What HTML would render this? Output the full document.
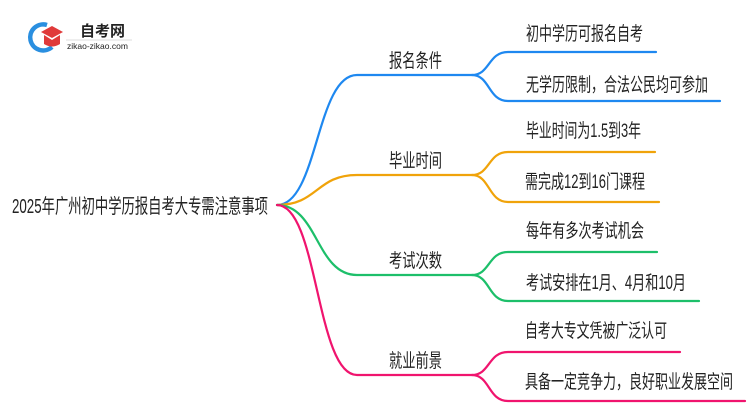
<!DOCTYPE html>
<html><head><meta charset="utf-8">
<style>
html,body{margin:0;padding:0;background:#fff;}
svg{display:block;}
text{font-family:"Liberation Sans","Noto Sans CJK SC",sans-serif;fill:#222;}
</style></head>
<body>
<svg width="750" height="410" viewBox="0 0 750 410" xmlns="http://www.w3.org/2000/svg">
<!-- logo -->
<path d="M47 25 A13 13 0 1 0 52 47" fill="none" stroke="#2a8fe0" stroke-width="4.5"/>
<polygon points="41,32 52,26 63,32 52,38" fill="#e03a3a"/>
<path d="M44 35 L44 44 Q52 49 60 44 L60 35 L52 40 Z" fill="#e03a3a"/>
<text x="80" y="36" font-size="15" font-weight="bold" fill="#333">自考网</text>
<line x1="66" y1="40" x2="132" y2="40" stroke="#ddd" stroke-width="1"/>
<text x="67" y="49" font-size="8.5" fill="#555">zikao-zikao.com</text>

<g fill="none" stroke-width="2.2" stroke-linecap="round">
<path d="M277 205 C318 205 316 75 357 75 L472 75" stroke="#1e88f0"/>
<path d="M472 75 C490 75 488 52 508 52 L656 52" stroke="#1e88f0"/>
<path d="M472 75 C490 75 488 101 508 101 L720 101" stroke="#1e88f0"/>
<path d="M277 205 C318 205 316 175 357 175 L472 175" stroke="#f0a30a"/>
<path d="M472 175 C490 175 488 152 508 152 L655 152" stroke="#f0a30a"/>
<path d="M472 175 C490 175 488 202 508 202 L659 202" stroke="#f0a30a"/>
<path d="M277 205 C318 205 316 275 357 275 L472 275" stroke="#1dbf6a"/>
<path d="M472 275 C490 275 488 252 508 252 L657 252" stroke="#1dbf6a"/>
<path d="M472 275 C490 275 488 301 508 301 L699 301" stroke="#1dbf6a"/>
<path d="M277 205 C318 205 316 375 357 375 L472 375" stroke="#f0146e"/>
<path d="M472 375 C490 375 488 352 508 352 L680 352" stroke="#f0146e"/>
<path d="M472 375 C490 375 488 401 508 401 L745 401" stroke="#f0146e"/>
</g>

<text x="12" y="213" font-size="20" textLength="256" lengthAdjust="spacingAndGlyphs">2025年广州初中学历报自考大专需注意事项</text>

<g font-size="19">
<text x="389" y="67" textLength="53" lengthAdjust="spacingAndGlyphs">报名条件</text>
<text x="389" y="167" textLength="53" lengthAdjust="spacingAndGlyphs">毕业时间</text>
<text x="389" y="267" textLength="53" lengthAdjust="spacingAndGlyphs">考试次数</text>
<text x="389" y="367" textLength="53" lengthAdjust="spacingAndGlyphs">就业前景</text>

<text x="526" y="40" textLength="117" lengthAdjust="spacingAndGlyphs">初中学历可报名自考</text>
<text x="526" y="91" textLength="182" lengthAdjust="spacingAndGlyphs">无学历限制，合法公民均可参加</text>
<text x="526" y="137" textLength="115" lengthAdjust="spacingAndGlyphs">毕业时间为1.5到3年</text>
<text x="525" y="188" textLength="120" lengthAdjust="spacingAndGlyphs">需完成12到16门课程</text>
<text x="526" y="237" textLength="118" lengthAdjust="spacingAndGlyphs">每年有多次考试机会</text>
<text x="526" y="289" textLength="160" lengthAdjust="spacingAndGlyphs">考试安排在1月、4月和10月</text>
<text x="525" y="337" textLength="142" lengthAdjust="spacingAndGlyphs">自考大专文凭被广泛认可</text>
<text x="525" y="388" textLength="208" lengthAdjust="spacingAndGlyphs">具备一定竞争力，良好职业发展空间</text>
</g>
</svg>
</body></html>
